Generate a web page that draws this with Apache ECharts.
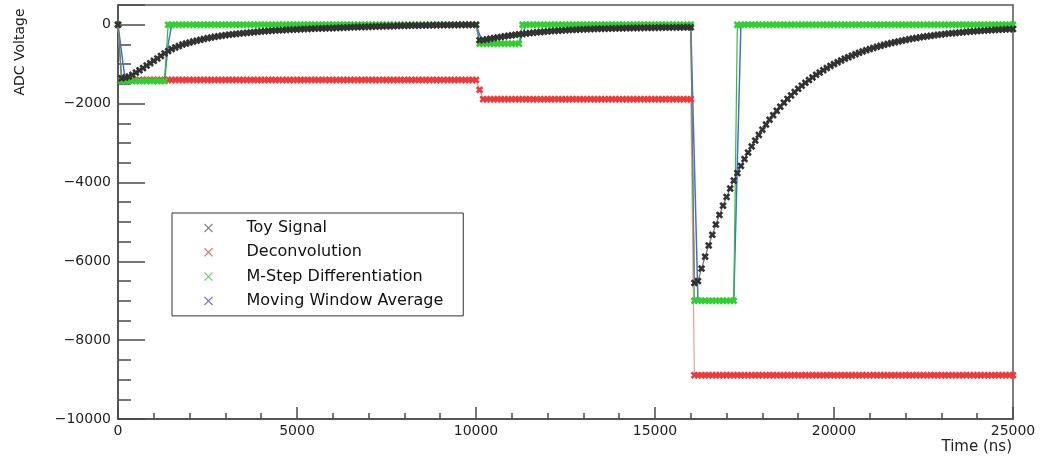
<!DOCTYPE html>
<html>
<head>
<meta charset="utf-8">
<script src="https://cdn.jsdelivr.net/npm/echarts@6/dist/echarts.min.js"></script>
<style>
html,body{margin:0;padding:0;background:#fff;}
#chart{width:1047px;height:459px;}
</style>
</head>
<body>
<div id="chart"></div>
<script>
// ---- data (time in ns, values in ADC counts) ----
const timeNs = [
0,100,200,300,400,500,600,700,800,900,
1000,1100,1200,1300,1400,1500,1600,1700,1800,1900,
2000,2100,2200,2300,2400,2500,2600,2700,2800,2900,
3000,3100,3200,3300,3400,3500,3600,3700,3800,3900,
4000,4100,4200,4300,4400,4500,4600,4700,4800,4900,
5000,5100,5200,5300,5400,5500,5600,5700,5800,5900,
6000,6100,6200,6300,6400,6500,6600,6700,6800,6900,
7000,7100,7200,7300,7400,7500,7600,7700,7800,7900,
8000,8100,8200,8300,8400,8500,8600,8700,8800,8900,
9000,9100,9200,9300,9400,9500,9600,9700,9800,9900,
10000,10100,10200,10300,10400,10500,10600,10700,10800,10900,
11000,11100,11200,11300,11400,11500,11600,11700,11800,11900,
12000,12100,12200,12300,12400,12500,12600,12700,12800,12900,
13000,13100,13200,13300,13400,13500,13600,13700,13800,13900,
14000,14100,14200,14300,14400,14500,14600,14700,14800,14900,
15000,15100,15200,15300,15400,15500,15600,15700,15800,15900,
16000,16100,16200,16300,16400,16500,16600,16700,16800,16900,
17000,17100,17200,17300,17400,17500,17600,17700,17800,17900,
18000,18100,18200,18300,18400,18500,18600,18700,18800,18900,
19000,19100,19200,19300,19400,19500,19600,19700,19800,19900,
20000,20100,20200,20300,20400,20500,20600,20700,20800,20900,
21000,21100,21200,21300,21400,21500,21600,21700,21800,21900,
22000,22100,22200,22300,22400,22500,22600,22700,22800,22900,
23000,23100,23200,23300,23400,23500,23600,23700,23800,23900,
24000,24100,24200,24300,24400,24500,24600,24700,24800,24900,
25000
];

const toySignal = [
0,-1360,-1340,-1315,-1270,-1215,-1158,-1098,-1037,-976,
-916,-855,-793,-730,-668,-617,-575,-540,-503,-477,
-452,-428,-405,-383,-362,-343,-325,-308,-293,-279,
-266,-254,-243,-233,-223,-214,-205,-196,-188,-180,
-172,-164,-158,-152,-146,-141,-136,-131,-127,-123,
-119,-115,-111,-107,-103,-99,-96,-93,-90,-87,
-84,-81,-78,-75,-71,-67,-64,-61,-58,-55,
-52,-49,-46,-43,-41,-38,-36,-34,-31,-29,
-27,-25,-23,-21,-19,-17,-16,-14,-13,-11,
-10,-9,-8,-7,-6,-5,-4,-3,-3,-2,
-2,-392,-390,-372,-355,-339,-324,-309,-295,-282,
-269,-257,-245,-233,-223,-213,-203,-194,-185,-177,
-169,-162,-156,-150,-144,-139,-134,-129,-125,-121,
-117,-114,-111,-108,-105,-102,-100,-97,-95,-93,
-91,-89,-87,-85,-84,-82,-81,-79,-78,-77,
-75,-74,-73,-72,-71,-70,-69,-68,-67,-66,
-65,-6550,-6500,-6184,-5884,-5599,-5327,-5069,-4823,-4589,
-4367,-4155,-3954,-3763,-3581,-3407,-3243,-3086,-2937,-2795,
-2661,-2532,-2410,-2294,-2184,-2078,-1979,-1884,-1793,-1707,
-1626,-1548,-1473,-1403,-1336,-1272,-1212,-1154,-1099,-1047,
-998,-951,-905,-863,-823,-784,-747,-712,-679,-647,
-617,-588,-561,-535,-511,-487,-465,-443,-423,-404,
-386,-368,-352,-337,-321,-308,-294,-281,-269,-257,
-246,-235,-225,-216,-207,-198,-190,-182,-175,-168,
-161,-155,-148,-143,-137,-132,-127,-123,-118,-113,
-110
];

const deconvolution = [
0,-1400,-1400,-1400,-1400,-1400,-1400,-1400,-1400,-1400,
-1400,-1400,-1400,-1400,-1400,-1400,-1400,-1400,-1400,-1400,
-1400,-1400,-1400,-1400,-1400,-1400,-1400,-1400,-1400,-1400,
-1400,-1400,-1400,-1400,-1400,-1400,-1400,-1400,-1400,-1400,
-1400,-1400,-1400,-1400,-1400,-1400,-1400,-1400,-1400,-1400,
-1400,-1400,-1400,-1400,-1400,-1400,-1400,-1400,-1400,-1400,
-1400,-1400,-1400,-1400,-1400,-1400,-1400,-1400,-1400,-1400,
-1400,-1400,-1400,-1400,-1400,-1400,-1400,-1400,-1400,-1400,
-1400,-1400,-1400,-1400,-1400,-1400,-1400,-1400,-1400,-1400,
-1400,-1400,-1400,-1400,-1400,-1400,-1400,-1400,-1400,-1400,
-1400,-1650,-1890,-1890,-1890,-1890,-1890,-1890,-1890,-1890,
-1890,-1890,-1890,-1890,-1890,-1890,-1890,-1890,-1890,-1890,
-1890,-1890,-1890,-1890,-1890,-1890,-1890,-1890,-1890,-1890,
-1890,-1890,-1890,-1890,-1890,-1890,-1890,-1890,-1890,-1890,
-1890,-1890,-1890,-1890,-1890,-1890,-1890,-1890,-1890,-1890,
-1890,-1890,-1890,-1890,-1890,-1890,-1890,-1890,-1890,-1890,
-1890,-8890,-8890,-8890,-8890,-8890,-8890,-8890,-8890,-8890,
-8890,-8890,-8890,-8890,-8890,-8890,-8890,-8890,-8890,-8890,
-8890,-8890,-8890,-8890,-8890,-8890,-8890,-8890,-8890,-8890,
-8890,-8890,-8890,-8890,-8890,-8890,-8890,-8890,-8890,-8890,
-8890,-8890,-8890,-8890,-8890,-8890,-8890,-8890,-8890,-8890,
-8890,-8890,-8890,-8890,-8890,-8890,-8890,-8890,-8890,-8890,
-8890,-8890,-8890,-8890,-8890,-8890,-8890,-8890,-8890,-8890,
-8890,-8890,-8890,-8890,-8890,-8890,-8890,-8890,-8890,-8890,
-8890,-8890,-8890,-8890,-8890,-8890,-8890,-8890,-8890,-8890,
-8890
];

const mStepDiff = [
0,-1430,-1430,-1430,-1430,-1430,-1430,-1430,-1430,-1430,
-1430,-1430,-1430,-1430,0,0,0,0,0,0,
0,0,0,0,0,0,0,0,0,0,
0,0,0,0,0,0,0,0,0,0,
0,0,0,0,0,0,0,0,0,0,
0,0,0,0,0,0,0,0,0,0,
0,0,0,0,0,0,0,0,0,0,
0,0,0,0,0,0,0,0,0,0,
0,0,0,0,0,0,0,0,0,0,
0,0,0,0,0,0,0,0,0,0,
0,-480,-480,-480,-480,-480,-480,-480,-480,-480,
-480,-480,-480,0,0,0,0,0,0,0,
0,0,0,0,0,0,0,0,0,0,
0,0,0,0,0,0,0,0,0,0,
0,0,0,0,0,0,0,0,0,0,
0,0,0,0,0,0,0,0,0,0,
0,-7000,-7000,-7000,-7000,-7000,-7000,-7000,-7000,-7000,
-7000,-7000,-7000,0,0,0,0,0,0,0,
0,0,0,0,0,0,0,0,0,0,
0,0,0,0,0,0,0,0,0,0,
0,0,0,0,0,0,0,0,0,0,
0,0,0,0,0,0,0,0,0,0,
0,0,0,0,0,0,0,0,0,0,
0,0,0,0,0,0,0,0,0,0,
0,0,0,0,0,0,0,0,0,0,
0
];

const movingWindowAvg = [
0,-700,-1400,-1430,-1430,-1430,-1430,-1430,-1430,-1430,
-1430,-1430,-1430,-1430,-500,0,0,0,0,0,
0,0,0,0,0,0,0,0,0,0,
0,0,0,0,0,0,0,0,0,0,
0,0,0,0,0,0,0,0,0,0,
0,0,0,0,0,0,0,0,0,0,
0,0,0,0,0,0,0,0,0,0,
0,0,0,0,0,0,0,0,0,0,
0,0,0,0,0,0,0,0,0,0,
0,0,0,0,0,0,0,0,0,0,
0,-250,-480,-480,-480,-480,-480,-480,-480,-480,
-480,-480,-480,-240,0,0,0,0,0,0,
0,0,0,0,0,0,0,0,0,0,
0,0,0,0,0,0,0,0,0,0,
0,0,0,0,0,0,0,0,0,0,
0,0,0,0,0,0,0,0,0,0,
0,-3500,-7000,-7000,-7000,-7000,-7000,-7000,-7000,-7000,
-7000,-7000,-7000,-3500,0,0,0,0,0,0,
0,0,0,0,0,0,0,0,0,0,
0,0,0,0,0,0,0,0,0,0,
0,0,0,0,0,0,0,0,0,0,
0,0,0,0,0,0,0,0,0,0,
0,0,0,0,0,0,0,0,0,0,
0,0,0,0,0,0,0,0,0,0,
0,0,0,0,0,0,0,0,0,0,
0
];

const seriesNames = ['Toy Signal', 'Deconvolution', 'M-Step Differentiation', 'Moving Window Average'];
const yTickLabels = [-10000, -8000, -6000, -4000, -2000, 0];
const xTickLabels = [0, 5000, 10000, 15000, 20000, 25000];

// ---- presentation ----
const X_MARK = 'path://M2.5,0 L5,2.5 L7.5,0 L10,2.5 L7.5,5 L10,7.5 L7.5,10 L5,7.5 L2.5,10 L0,7.5 L2.5,5 L0,2.5 Z';
const X_ICON = 'path://M1,0 L5,4 L9,0 L10,1 L6,5 L10,9 L9,10 L5,6 L1,10 L0,9 L4,5 L0,1 Z';
const FONT = '"DejaVu Sans", "Liberation Sans", sans-serif';
const AXC = '#4a4a4a';

function pairs(ys) { return timeNs.map((t, i) => [t, ys[i]]); }
function fmt(v) { return v < 0 ? '\u2212' + (-v) : String(v); }

const chart = echarts.init(document.getElementById('chart'), null, {renderer: 'canvas'});

const markSeries = (name, ys, color, lineColor, showSym) => ({
  name: name,
  type: 'line',
  data: pairs(ys),
  symbol: X_MARK,
  symbolSize: 7.5,
  showSymbol: showSym,
  showAllSymbol: true,
  itemStyle: {color: color},
  lineStyle: {color: lineColor, width: showSym ? 1.2 : 1.5},
  emphasis: {disabled: true},
  silent: true,
  animation: false
});

chart.setOption({
  animation: false,
  grid: {left: 118, right: 34, top: 5, bottom: 40, show: true, borderColor: '#555', borderWidth: 1.5, backgroundColor: 'transparent'},
  xAxis: {
    type: 'value', min: 0, max: 25000, interval: 5000,
    axisLine: {show: true, onZero: false, lineStyle: {color: AXC, width: 1.5}},
    axisTick: {show: true, inside: true, length: 12, lineStyle: {color: AXC, width: 1.5}},
    minorTick: {show: true, splitNumber: 5, length: 6, lineStyle: {color: AXC, width: 1.5}},
    splitLine: {show: false},
    minorSplitLine: {show: false},
    axisLabel: {margin: 5, fontFamily: FONT, fontSize: 14, color: '#222',
      formatter: v => (xTickLabels.indexOf(v) >= 0 ? String(v) : '')}
  },
  yAxis: [{
    type: 'value', min: -10000, max: 500, interval: 2000,
    axisLine: {show: true, onZero: false, lineStyle: {color: AXC, width: 1.5}},
    axisTick: {show: true, inside: true, length: 27, lineStyle: {color: AXC, width: 1.5}},
    minorTick: {show: false},
    splitLine: {show: false},
    axisLabel: {margin: 7, fontFamily: FONT, fontSize: 14, color: '#222',
      formatter: v => (yTickLabels.indexOf(v) >= 0 ? fmt(v) : '')}
  }, {
    type: 'value', min: -10000, max: 500, interval: 500, position: 'left',
    axisLine: {show: false, onZero: false},
    axisTick: {show: true, inside: true, length: 13, lineStyle: {color: AXC, width: 1.5}},
    axisLabel: {show: false},
    splitLine: {show: false}
  }],
  legend: {
    orient: 'vertical', left: 172, top: 213,
    padding: [5, 20, 5, 32],
    itemWidth: 66, itemHeight: 9, itemGap: 4.3,
    symbolKeepAspect: true,
    selectedMode: false,
    backgroundColor: '#fff', borderColor: '#333', borderWidth: 1, borderRadius: 0,
    textStyle: {fontFamily: FONT, fontSize: 16, color: '#111', lineHeight: 20},
    data: [
      {name: seriesNames[0], icon: X_ICON, itemStyle: {color: '#8a8a8a'}},
      {name: seriesNames[1], icon: X_ICON, itemStyle: {color: '#e87474'}},
      {name: seriesNames[2], icon: X_ICON, itemStyle: {color: '#74d474'}},
      {name: seriesNames[3], icon: X_ICON, itemStyle: {color: '#7878d8'}}
    ]
  },
  graphic: [
    {type: 'text', x: 20, y: 52, rotation: Math.PI / 2,
     style: {text: 'ADC Voltage', font: '14px ' + FONT, fill: '#222', align: 'center', verticalAlign: 'middle'}},
    {type: 'text', x: 1012, y: 447,
     style: {text: 'Time (ns)', font: '15px ' + FONT, fill: '#222', align: 'right', verticalAlign: 'middle'}}
  ],
  series: [
    markSeries(seriesNames[1], deconvolution, '#f03a3a', '#f29a9a', true),
    markSeries(seriesNames[3], movingWindowAvg, '#3d6fe0', '#3d6fe0', false),
    markSeries(seriesNames[2], mStepDiff, '#2fd02f', '#2fc02f', true),
    markSeries(seriesNames[0], toySignal, '#333333', '#777777', true)
  ]
});
</script>
</body>
</html>
